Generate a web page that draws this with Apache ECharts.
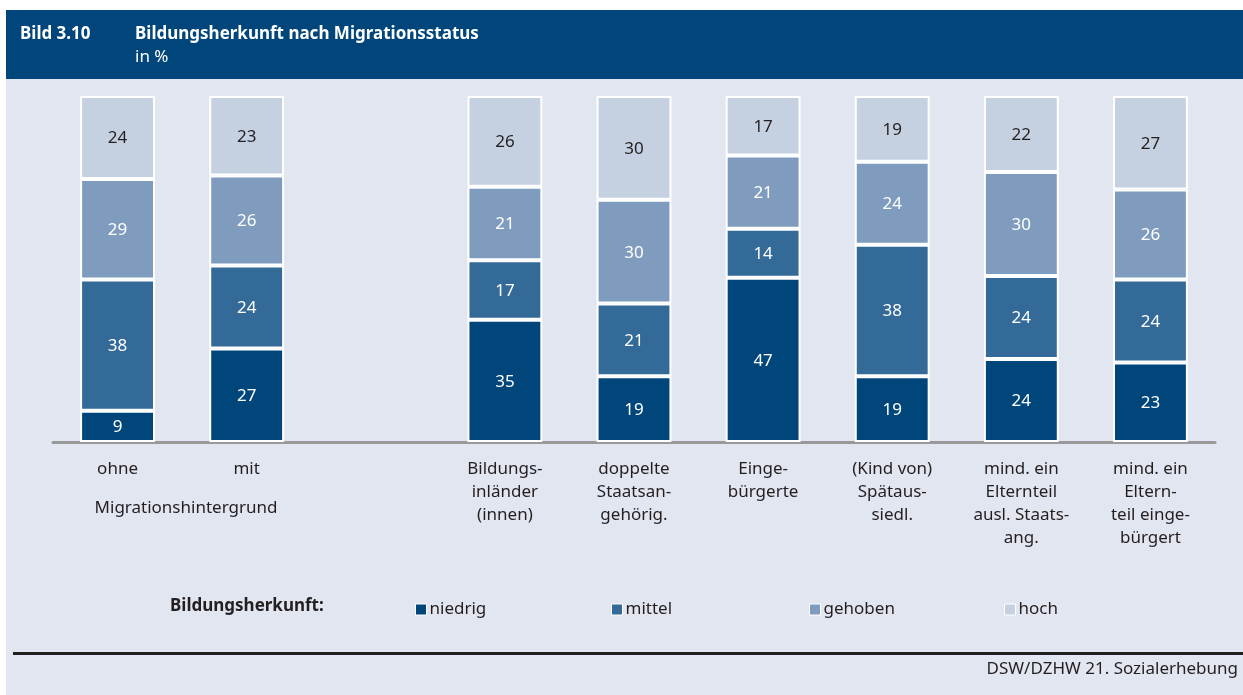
<!DOCTYPE html>
<html>
<head>
<meta charset="utf-8">
<script src="https://cdn.jsdelivr.net/npm/echarts@6/dist/echarts.min.js"></script>
<style>
  html, body { margin: 0; padding: 0; background: #fff; }
  #chart { width: 1243px; height: 695px; }
</style>
</head>
<body>
<div id="chart"></div>
<script>
// Kategorien (leerer Platz als Abstand zwischen den Gruppen)
const categories = [
  'ohne', 'mit', '',
  'Bildungs-\ninländer\n(innen)',
  'doppelte\nStaatsan-\ngehörig.',
  'Einge-\nbürgerte',
  '(Kind von)\nSpätaus-\nsiedl.',
  'mind. ein\nElternteil\nausl. Staats-\nang.',
  'mind. ein\nEltern-\nteil einge-\nbürgert'
];
const seriesNames = ['niedrig', 'mittel', 'gehoben', 'hoch'];
const niedrig = [9, 27, null, 35, 19, 47, 19, 24, 23];
const mittel  = [38, 24, null, 17, 21, 14, 38, 24, 24];
const gehoben = [29, 26, null, 21, 30, 21, 24, 30, 26];
const hoch    = [24, 23, null, 26, 30, 17, 19, 22, 27];

const colors = ['#00467a', '#336a98', '#7f9cbf', '#c5d1e1'];
const labelColors = ['#fff', '#fff', '#fff', '#231f20'];
const legendLeft = [410, 606, 804, 999];
const font = '"Noto Sans", sans-serif';
const allData = [niedrig, mittel, gehoben, hoch];

// Summe je Kategorie -> Balken auf 100 % normiert
const sums = categories.map(function (c, j) {
  return allData.reduce(function (s, arr) { return s + (arr[j] || 0); }, 0);
});

let myChart = echarts.init(document.getElementById('chart'));

function makeSeries(name, data, i) {
  return {
    name: name,
    type: 'bar',
    stack: 'total',
    barWidth: '58%',
    data: data.map(function (v, j) {
      return v == null ? '-' : { value: v * 100 / sums[j], raw: v };
    }),
    itemStyle: { color: colors[i], borderColor: '#fff', borderWidth: 2 },
    label: {
      show: true,
      position: 'inside',
      color: labelColors[i],
      fontSize: 17,
      fontFamily: font,
      offset: [0, 1],
      formatter: function (p) { return data[p.dataIndex]; }
    }
  };
}

let legends = seriesNames.map(function (n, i) {
  return {
    data: [n],
    left: legendLeft[i],
    top: 596,
    icon: 'rect',
    itemWidth: 11,
    itemHeight: 11,
    itemGap: 4,
    itemStyle: { borderColor: '#fff', borderWidth: 1 },
    textStyle: { fontSize: 17, color: '#231f20', fontFamily: font, padding: [0, 0, 0, -2] }
  };
});

let option = {
  animation: false,
  textStyle: { fontFamily: font },
  graphic: [
    // Hintergrund
    { type: 'rect', z: -10, shape: { x: 6, y: 79, width: 1237, height: 616 }, style: { fill: '#e2e6f0' } },
    // Kopfzeile
    { type: 'rect', z: -10, shape: { x: 6, y: 10, width: 1237, height: 69 }, style: { fill: '#00467a' } },
    { type: 'text', left: 20, top: 26, style: { text: 'Bild 3.10', fill: '#fff', font: 'bold 17px ' + font } },
    { type: 'text', left: 135, top: 26, style: { text: 'Bildungsherkunft nach Migrationsstatus', fill: '#fff', font: 'bold 17px ' + font } },
    { type: 'text', left: 135, top: 49, style: { text: 'in %', fill: '#fff', font: '17px ' + font } },
    // Gruppenbeschriftung
    { type: 'text', x: 186, y: 508, style: { text: 'Migrationshintergrund', fill: '#231f20', font: '17px ' + font, align: 'center', verticalAlign: 'middle' } },
    // Legendentitel
    { type: 'text', x: 170, y: 606, style: { text: 'Bildungsherkunft:', fill: '#231f20', font: 'bold 17px ' + font, verticalAlign: 'middle' } },
    // Fußlinie und Quelle
    { type: 'rect', shape: { x: 13, y: 652, width: 1230, height: 3 }, style: { fill: '#231f20' } },
    { type: 'text', right: 5, top: 661, style: { text: 'DSW/DZHW 21. Sozialerhebung', fill: '#231f20', font: '17px ' + font } }
  ],
  legend: legends,
  grid: { left: 53, right: 28, top: 96, bottom: 253 },
  xAxis: {
    type: 'category',
    data: categories,
    axisLine: { lineStyle: { color: '#999', width: 3 } },
    axisTick: { show: false },
    axisLabel: {
      interval: 0,
      color: '#231f20',
      fontSize: 17,
      lineHeight: 23,
      margin: 16
    }
  },
  yAxis: {
    type: 'value',
    min: 0,
    max: 100,
    show: false,
    splitLine: { show: false }
  },
  series: seriesNames.map(function (n, i) { return makeSeries(n, allData[i], i); })
};
myChart.setOption(option);
window.addEventListener('resize', function () { myChart.resize(); });
</script>
</body>
</html>
